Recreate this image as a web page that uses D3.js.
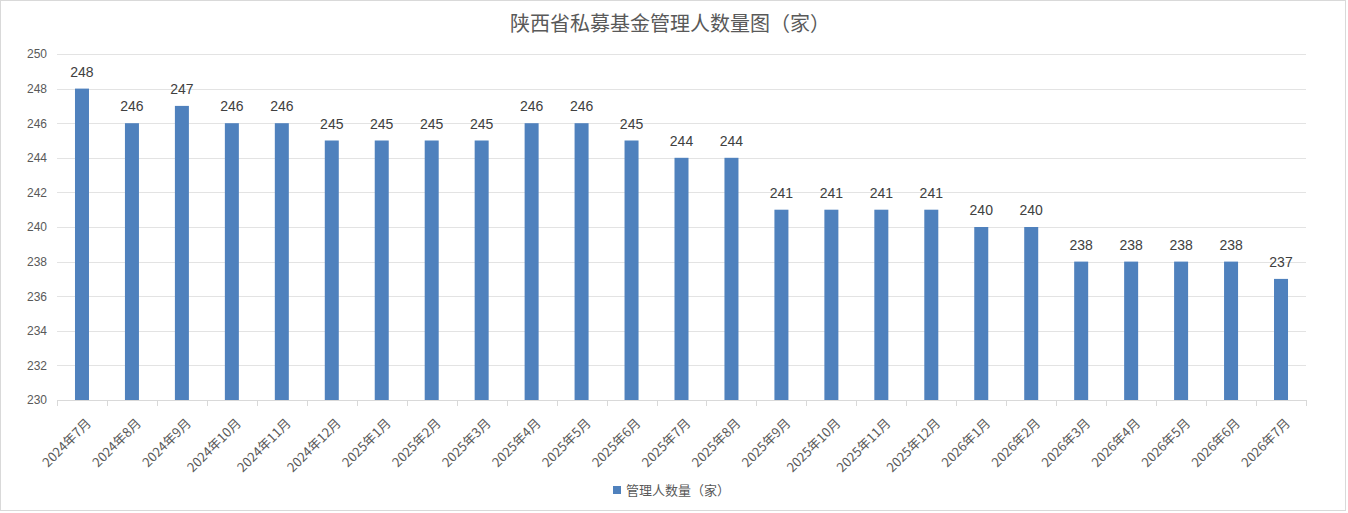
<!DOCTYPE html>
<html>
<head>
<meta charset="utf-8">
<style type="text/css">
  body{
    margin: 0;
    background: white;
    font-family: 'Noto Sans CJK SC', 'Noto Sans', sans-serif;
  }
</style>
</head>
<body>

<script src="https://cdn.jsdelivr.net/npm/d3@7/dist/d3.min.js"></script>

<svg id="chart"></svg>

<script>

var months = ["2024年7月","2024年8月","2024年9月","2024年10月","2024年11月","2024年12月",
  "2025年1月","2025年2月","2025年3月","2025年4月","2025年5月","2025年6月",
  "2025年7月","2025年8月","2025年9月","2025年10月","2025年11月","2025年12月",
  "2026年1月","2026年2月","2026年3月","2026年4月","2026年5月","2026年6月","2026年7月"];

var managers = [248,246,247,246,246,245,245,245,245,246,246,245,244,244,
  241,241,241,241,240,240,238,238,238,238,237];

var yTicks = [230,232,234,236,238,240,242,244,246,248,250];

var seriesName = "管理人数量（家）";
var titleText = "陕西省私募基金管理人数量图（家）";

var width = 1348;
var height = 513;
var margin = {left: 57, right: 42, top: 54, bottom: 113};
var numFont = "'Liberation Sans', 'Noto Sans', sans-serif";

var svg = d3.select("#chart")
  .attr("width", width)
  .attr("height", height);

// outer frame
svg.append("rect")
  .attr("x", 0.5).attr("y", 0.5)
  .attr("width", width - 3).attr("height", height - 3)
  .attr("fill", "white")
  .attr("stroke", "#d9d9d9");

var x = d3.scaleBand()
  .domain(months)
  .range([margin.left, width - margin.right]);

var y = d3.scaleLinear()
  .domain([230, 250])
  .range([height - margin.bottom, margin.top]);

// gridlines
svg.append("g")
  .selectAll("line")
  .data(yTicks.slice(1))
  .enter()
  .append("line")
  .attr("x1", margin.left)
  .attr("x2", width - margin.right)
  .attr("y1", function(d) { return Math.round(y(d)) + 0.5; })
  .attr("y2", function(d) { return Math.round(y(d)) + 0.5; })
  .attr("stroke", "#e3e3e3");

// y axis labels
var yAxis = svg.append("g")
  .attr("transform", "translate(" + margin.left + ",0)")
  .call(d3.axisLeft(y).tickValues(yTicks).tickSize(0).tickPadding(10));
yAxis.select(".domain").remove();
yAxis.selectAll("text")
  .attr("fill", "#595959")
  .style("font-size", "12px")
  .style("font-family", numFont);

// bars
var barWidth = 14;
svg.append("g")
  .selectAll("rect")
  .data(managers)
  .enter()
  .append("rect")
  .attr("x", function(d,i) { return x(months[i]) + x.bandwidth() / 2 - barWidth / 2; })
  .attr("y", function(d) { return y(d); })
  .attr("width", barWidth)
  .attr("height", function(d) { return y(230) - y(d); })
  .attr("fill", "#4f81bd");

// value labels
svg.append("g")
  .selectAll("text")
  .data(managers)
  .enter()
  .append("text")
  .attr("x", function(d,i) { return x(months[i]) + x.bandwidth() / 2; })
  .attr("y", function(d) { return y(d) - 12; })
  .attr("text-anchor", "middle")
  .attr("fill", "#404040")
  .style("font-size", "14px")
  .style("font-family", numFont)
  .text(function(d) { return d; });

// x axis
var xBottom = y(230);
svg.append("line")
  .attr("x1", margin.left).attr("x2", width - margin.right)
  .attr("y1", Math.round(xBottom) + 0.5).attr("y2", Math.round(xBottom) + 0.5)
  .attr("stroke", "#d9d9d9");

var bounds = months.map(function(m) { return x(m); }).concat([x.range()[1]]);
svg.append("g")
  .selectAll("line")
  .data(bounds)
  .enter()
  .append("line")
  .attr("x1", function(d) { return Math.round(d) + 0.5; })
  .attr("x2", function(d) { return Math.round(d) + 0.5; })
  .attr("y1", xBottom)
  .attr("y2", xBottom + 6)
  .attr("stroke", "#d9d9d9");

svg.append("g")
  .selectAll("text")
  .data(months)
  .enter()
  .append("text")
  .attr("transform", function(d) {
    return "translate(" + (x(d) + x.bandwidth() / 2 + 10) + "," + (xBottom + 24) + ") rotate(-45)";
  })
  .attr("text-anchor", "end")
  .attr("fill", "#595959")
  .style("font-size", "13px")
  .text(function(d) { return d; });

// title
svg.append("text")
  .attr("x", 670)
  .attr("y", 31)
  .attr("text-anchor", "middle")
  .attr("fill", "#595959")
  .style("font-size", "20px")
  .text(titleText);

// legend
svg.append("rect")
  .attr("x", 613).attr("y", 486)
  .attr("width", 8).attr("height", 8)
  .attr("fill", "#4f81bd");
svg.append("text")
  .attr("x", 626).attr("y", 495)
  .attr("fill", "#595959")
  .style("font-size", "13px")
  .text(seriesName);

</script>

</body>
</html>
